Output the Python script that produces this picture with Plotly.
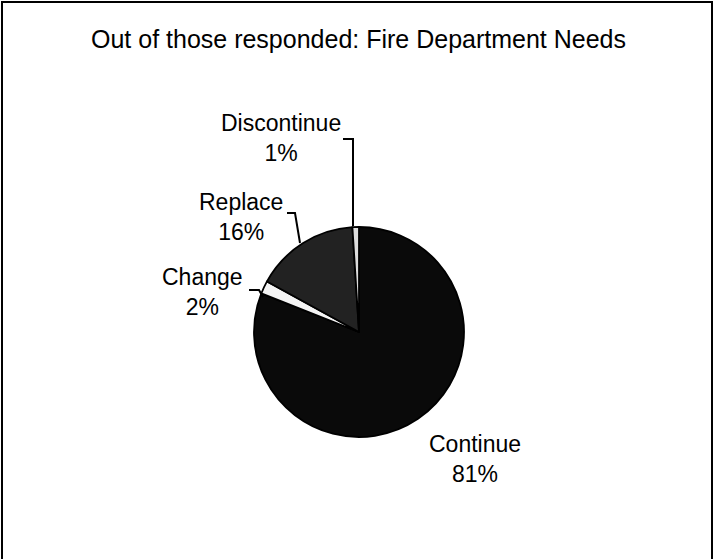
import plotly.graph_objects as go

# Data
labels = ["Continue", "Change", "Replace", "Discontinue"]
percents = [81, 2, 16, 1]
colors = ["#0a0a0a", "#f4f4f4", "#222222", "#dcdcdc"]
title_text = "Out of those responded: Fire Department Needs"

W, H = 714, 559

def px(x):
    return x / W

def py(y):
    return 1 - y / H

# pie geometry (pixels)
cx, cy, r = 359, 332, 105

fig = go.Figure(go.Pie(
    labels=labels,
    values=percents,
    sort=False,
    direction="clockwise",
    rotation=0,
    textinfo="none",
    hoverinfo="label+percent",
    marker=dict(colors=colors, line=dict(color="#000000", width=1.8)),
    domain=dict(x=[px(cx - r), px(cx + r)], y=[py(cy + r), py(cy - r)]),
    showlegend=False,
))

font_family = "Liberation Sans, Arial, sans-serif"

# label placement (pixel centers) and leader paths
label_pos = {
    "Discontinue": (281, 138),
    "Replace": (241, 217),
    "Change": (202, 292),
    "Continue": (475, 459),
}
leaders = [
    [(343, 139), (353, 139), (353, 226)],
    [(287, 213), (295, 213), (300, 243)],
    [(249, 290), (259, 290), (263, 297)],
]

annotations = [dict(
    text=title_text, x=px(358), y=py(39), xref="paper", yref="paper",
    xanchor="center", yanchor="middle", showarrow=False,
    font=dict(family=font_family, size=25, color="#000000"),
)]
for lab, p in zip(labels, percents):
    x, y = label_pos[lab]
    annotations.append(dict(
        text=f"{lab}<br>{p}%", x=px(x), y=py(y), xref="paper", yref="paper",
        xanchor="center", yanchor="middle", showarrow=False, align="center",
        font=dict(family=font_family, size=23, color="#000000"),
    ))

shapes = [dict(
    type="rect", xref="paper", yref="paper",
    x0=px(2), x1=px(712), y0=py(565), y1=py(2),
    line=dict(color="#000000", width=2), fillcolor="rgba(0,0,0,0)",
)]
for pts in leaders:
    path = "M " + " L ".join(f"{px(x)},{py(y)}" for x, y in pts)
    shapes.append(dict(type="path", xref="paper", yref="paper", path=path,
                       line=dict(color="#000000", width=2)))

fig.update_layout(
    width=W, height=H,
    margin=dict(l=0, r=0, t=0, b=0),
    paper_bgcolor="#ffffff",
    plot_bgcolor="#ffffff",
    annotations=annotations,
    shapes=shapes,
)

fig.write_html(
    "out.html",
    config={"displayModeBar": False},
    post_script="document.body.style.margin='0px';",
)
